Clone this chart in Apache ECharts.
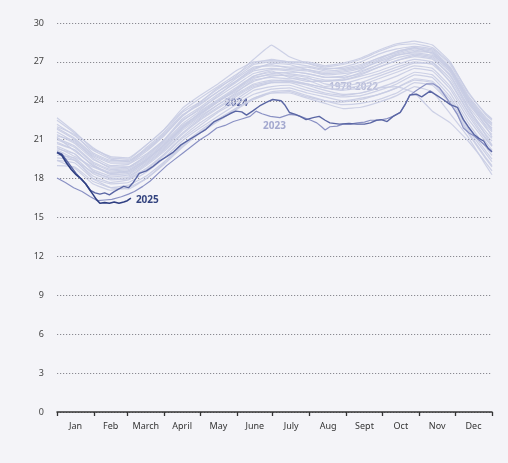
<!DOCTYPE html>
<html><head><meta charset="utf-8">
<script src="https://cdn.jsdelivr.net/npm/echarts@6/dist/echarts.min.js"></script>
<style>html,body{margin:0;padding:0;background:#f4f4f8;}#c{width:508px;height:463px;}</style>
</head><body><div id="c"></div>
<script>
// ---- data ----
const monthNames = ['Jan','Feb','March','April','May','June','July','Aug','Sept','Oct','Nov','Dec'];
const monthStarts = [0,31,59,90,120,151,181,212,243,273,304,334,365];
const monthMids = [15.5,45,74.5,105,135.5,166,196.5,227.5,258,288.5,319,349.5];
const yMin = 0, yMax = 30, yStep = 3;

// 1978-2022 (sampled every 15 days)
const historicDays = [0,15,30,45,60,75,90,105,120,135,150,165,180,195,210,225,240,255,270,285,300,315,330,345,360,365];
const historicLines = [
  [22.7,21.6,20.3,19.7,19.6,20.6,21.8,23.2,24.2,25.1,26.0,26.9,27.2,27.0,27.0,26.7,26.9,27.3,27.9,28.4,28.6,28.3,27.0,24.6,23.0,22.6],
  [22.2,21.3,20.2,19.5,19.3,20.4,21.6,23.1,23.9,25.0,25.8,26.8,27.0,26.9,26.7,26.4,26.6,27.0,27.6,28.0,28.2,28.0,26.8,24.4,22.7,22.3],
  [21.6,20.8,19.7,19.0,19.1,19.9,21.0,22.6,23.5,24.5,25.4,26.3,26.5,26.4,26.3,26.0,26.1,26.3,26.8,27.3,27.6,27.4,26.2,23.8,22.1,21.6],
  [20.7,20.2,19.0,18.5,18.6,19.4,20.5,21.9,22.9,23.9,24.8,25.7,26.1,26.2,26.1,25.8,25.9,26.4,27.1,27.6,27.9,27.7,26.5,24.1,22.4,21.9],
  [21.1,20.5,19.3,18.7,18.8,19.6,20.8,22.2,23.2,24.1,25.0,25.9,26.2,26.1,25.9,25.6,25.6,25.9,26.3,26.8,27.2,27.0,25.7,23.4,21.6,21.1],
  [19.8,19.6,18.4,17.9,18.0,18.8,19.9,21.2,22.3,23.2,24.1,25.0,25.4,25.5,25.3,25.0,24.9,25.2,25.7,26.2,26.7,26.5,25.1,22.9,21.0,20.5],
  [20.8,20.2,19.0,18.4,18.5,19.3,20.4,21.8,22.8,23.7,24.5,25.3,25.6,25.5,25.2,24.8,24.5,24.6,25.0,25.5,26.2,26.0,24.6,22.3,20.4,19.8],
  [19.0,18.9,17.8,17.3,17.5,18.2,19.3,20.6,21.7,22.6,23.4,24.2,24.7,24.8,24.4,24.0,23.7,23.8,24.1,24.6,25.4,25.2,23.8,21.5,19.5,18.9],
  [19.4,19.2,18.0,17.6,17.7,18.5,19.6,20.9,21.9,22.8,23.7,24.5,24.9,25.0,24.6,24.3,24.0,24.2,24.5,25.0,25.7,25.5,24.1,21.8,19.9,19.3],
  [20.3,19.9,18.7,18.2,18.2,19.1,20.2,21.5,22.6,23.5,24.4,25.2,25.5,25.6,25.3,25.0,24.8,25.0,25.4,25.9,26.5,26.3,24.9,22.6,20.8,20.2],
  [21.4,20.7,19.5,18.9,18.9,19.8,21.0,22.4,23.4,24.3,25.2,26.1,26.4,26.3,26.1,25.8,25.8,26.1,26.6,27.1,27.4,27.2,26.0,23.6,21.9,21.4],
  [21.9,21.1,19.9,19.3,19.3,20.2,21.4,22.8,23.8,24.7,25.7,26.6,26.7,26.6,26.6,26.3,26.4,26.7,27.3,27.7,28.0,27.8,26.5,24.2,22.5,22.1],
  [19.4,18.8,17.6,17.1,17.3,18.0,19.1,20.4,21.5,22.4,23.3,24.1,24.6,24.7,24.3,24.0,23.9,24.1,24.5,25.0,25.6,25.4,23.9,21.6,19.6,19.0],
  [21.8,21.0,19.8,19.2,19.2,20.1,21.3,22.8,23.9,24.9,25.9,27.2,28.3,27.4,26.9,26.5,26.5,26.8,27.3,27.8,28.1,27.9,26.6,24.3,22.6,22.2],
  [20.5,19.9,18.6,18.0,18.1,19.0,20.1,21.4,22.5,23.4,24.3,25.1,25.4,25.4,25.0,24.6,24.4,24.6,25.0,25.1,24.6,23.2,22.3,20.9,19.2,18.6],
  [20.2,19.5,18.0,17.3,17.2,18.0,19.2,20.5,21.6,22.5,23.4,24.2,24.6,24.6,24.2,23.8,23.4,23.5,23.9,24.4,25.1,24.7,23.0,21.2,19.0,18.3],
  [21.0,20.4,19.2,18.6,18.7,19.5,20.7,22.1,23.0,24.0,24.9,25.8,26.0,25.9,25.6,25.1,25.3,25.7,26.1,26.6,27.0,26.8,25.5,23.2,21.4,20.9],
  [22.5,21.5,20.4,19.6,19.5,20.6,21.8,23.4,24.4,25.3,26.3,27.0,27.1,27.0,26.9,26.6,26.8,27.2,27.8,28.3,28.4,28.1,26.9,24.7,22.9,22.5],
  [21.3,20.9,19.6,18.8,18.9,19.7,20.9,22.5,23.3,24.4,25.5,26.5,26.8,26.5,26.4,26.2,26.3,26.6,27.2,27.8,28.1,27.6,26.3,23.9,22.3,21.7],
  [20.0,19.4,18.5,18.1,18.3,19.2,20.3,21.7,22.7,23.7,24.6,25.6,25.8,25.7,25.7,25.5,25.6,26.0,26.6,27.1,27.5,27.3,25.9,23.5,21.3,20.6],
  [21.2,20.1,19.1,18.3,18.4,19.4,20.6,21.9,23.1,24.0,24.7,25.5,25.9,26.0,25.8,25.3,25.1,25.4,25.9,26.4,26.9,26.9,25.4,23.1,21.1,20.5],
  [20.4,19.7,18.9,18.4,18.6,19.5,20.6,22.0,23.0,23.9,24.9,25.9,26.3,25.8,25.5,25.5,25.7,26.2,26.8,27.5,27.7,27.5,26.4,24.0,22.0,21.2],
  [22.0,21.4,20.0,19.4,19.4,20.3,21.5,22.9,23.7,24.7,25.5,26.4,26.9,26.8,26.4,26.1,26.2,26.5,27.0,27.5,27.8,27.7,26.4,24.1,22.3,21.8],
  [19.6,19.4,18.2,17.7,17.9,18.7,19.8,21.1,22.1,23.1,23.9,24.8,25.1,25.2,24.8,24.5,24.3,24.4,24.8,25.3,26.0,25.8,24.3,22.0,20.1,19.5]
];

const days2023 = [0,7,14,21,28,34,40,46,54,60,65,72,78,85,92,99,106,113,120,127,134,141,148,155,162,167,172,179,187,195,201,207,213,218,222,225,229,235,240,246,252,258,263,270,276,282,288,292,296,300,305,310,316,321,327,332,336,341,346,350,355,360,365];
const vals2023 = [18.05,17.7,17.3,17.0,16.6,16.3,16.35,16.4,16.6,16.8,17.0,17.4,17.8,18.4,19.0,19.5,20.0,20.5,21.0,21.4,21.9,22.1,22.4,22.6,22.8,23.2,23.0,22.8,22.7,22.95,22.9,22.7,22.5,22.3,22.0,21.75,22.0,22.05,22.2,22.2,22.3,22.35,22.5,22.5,22.6,22.8,23.1,23.7,24.4,24.7,25.0,25.3,25.3,25.0,24.2,23.5,22.95,21.9,21.5,21.3,20.9,20.5,20.1];

const days2024 = [0,4,8,12,16,20,24,28,32,36,40,44,48,52,56,60,64,69,75,80,86,92,97,104,111,118,125,132,139,145,150,155,159,164,170,176,181,188,191,195,200,204,209,215,220,225,229,237,245,252,258,263,268,272,277,282,288,292,296,302,306,313,319,324,330,336,341,345,350,354,358,362,365];
const vals2024 = [20.05,19.9,19.4,18.9,18.4,18.0,17.6,17.1,16.9,16.8,16.9,16.75,17.0,17.2,17.4,17.3,17.7,18.4,18.6,18.9,19.35,19.7,20.0,20.6,21.0,21.4,21.8,22.4,22.7,23.0,23.2,23.15,22.9,23.2,23.6,23.9,24.1,24.0,23.7,23.1,22.95,22.8,22.55,22.7,22.8,22.5,22.3,22.2,22.25,22.2,22.2,22.3,22.5,22.55,22.4,22.8,23.1,23.7,24.45,24.5,24.3,24.75,24.4,24.1,23.7,23.5,22.55,22.0,21.4,21.1,20.9,20.3,20.05];

const days2025 = [0,4,8,12,16,20,24,27,30,33,36,40,44,48,52,56,59,62];
const vals2025 = [20.0,19.8,19.2,18.7,18.3,18.0,17.6,17.2,16.8,16.4,16.1,16.15,16.1,16.2,16.1,16.2,16.3,16.5];

// ---- chart ----
const FONT = '"Noto Sans", "Open Sans", sans-serif';
const pairs = (d, v) => d.map((x, i) => [x, v[i]]);
const chart = echarts.init(document.getElementById('c'), null, {renderer: 'canvas'});

const series = historicLines.map(line => ({
  type: 'line', data: pairs(historicDays, line), showSymbol: false, silent: true,
  smooth: 0.1, lineStyle: {color: 'rgba(200,204,227,0.9)', width: 1.2}, z: 1
}));
series.push({type:'line', data: pairs(days2023, vals2023), showSymbol:false, silent:true,
  lineStyle:{color:'#8a91c4', width:1.2}, z:3});
series.push({type:'line', data: pairs(days2024, vals2024), showSymbol:false, silent:true,
  lineStyle:{color:'#5a66a4', width:1.4}, z:4});
series.push({type:'line', data: pairs(days2025, vals2025), showSymbol:false, silent:true,
  lineStyle:{color:'#2f3f82', width:1.6}, z:5,
  endLabel:{show:true, formatter:'2025', color:'#34447f', fontWeight:'bold', fontSize:10, fontFamily:FONT, distance:5, offset:[0,2]}});

chart.setOption({
  backgroundColor: '#f4f4f8',
  animation: false,
  grid: {left: 57, right: 16, top: 23, bottom: 51},
  xAxis: {
    type: 'value', min: 0, max: 365,
    splitLine: {show: false},
    axisLine: {show: true, lineStyle: {color: '#333', width: 1.5}},
    axisTick: {show: true, customValues: monthStarts, length: 4, lineStyle: {color: '#333', width: 1.3}},
    axisLabel: {show: true, customValues: monthMids, margin: 10, fontSize: 9, color: '#333', fontFamily: FONT,
      formatter: v => { const i = monthMids.findIndex(m => Math.abs(m - v) < 0.01); return i >= 0 ? monthNames[i] : ''; }}
  },
  yAxis: {
    type: 'value', min: yMin, max: yMax, interval: yStep,
    axisLine: {show: false}, axisTick: {show: false},
    axisLabel: {fontSize: 9, color: '#444', margin: 13, fontFamily: FONT},
    splitLine: {show: true, lineStyle: {color: '#8a8a92', type: [1.2, 1.8], width: 1.2}}
  },
  graphic: [
    {type:'text', left: 225, top: 98, style:{text:'2024', fill:'#5863a0', font:'bold 10px "Noto Sans", sans-serif'}},
    {type:'text', left: 263, top: 121, style:{text:'2023', fill:'#a3a8cf', font:'bold 10px "Noto Sans", sans-serif'}},
    {type:'text', left: 329, top: 82, style:{text:'1978-2022', fill:'#b8bcd8', font:'bold 10px "Noto Sans", sans-serif'}}
  ],
  series: series
});
</script></body></html>
